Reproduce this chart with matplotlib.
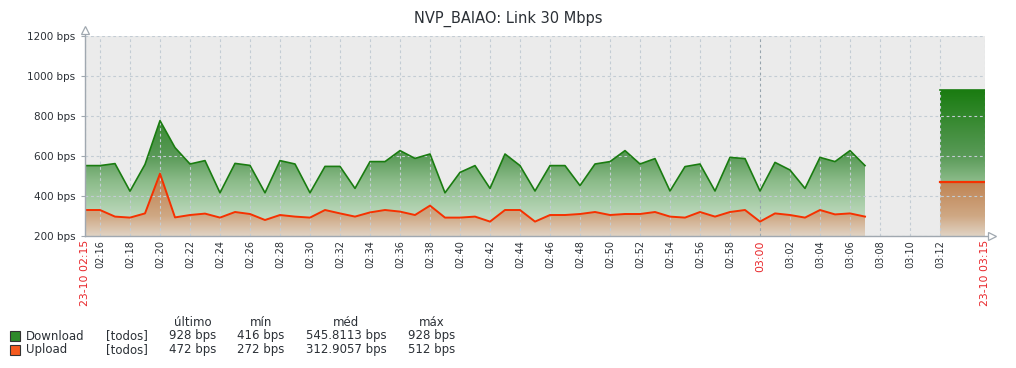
#!/usr/bin/env python3

import matplotlib
matplotlib.use('Agg')
import matplotlib.pyplot as plt
import numpy as np
from matplotlib.path import Path
from matplotlib.colors import LinearSegmentedColormap
from matplotlib.lines import Line2D

# minutes after 02:15
minutes = list(range(0, 53))
download = [552, 552, 562, 424, 558, 777, 642, 560, 577, 416, 563, 553,
            416, 577, 560, 416, 548, 548, 438, 572, 572, 627, 588, 610,
            416, 518, 552, 438, 610, 552, 425, 552, 552, 452, 560, 572,
            627, 560, 587, 425, 547, 560, 425, 593, 587, 425, 568, 530,
            438, 593, 572, 627, 552]
upload = [330, 330, 297, 292, 313, 512, 293, 305, 312, 292, 320, 310,
          280, 305, 297, 292, 330, 313, 297, 318, 330, 322, 305, 352,
          292, 292, 297, 272, 330, 330, 272, 305, 305, 310, 320, 305,
          310, 310, 320, 297, 292, 320, 297, 320, 330, 272, 313, 305,
          292, 330, 308, 313, 297]
# last block 03:12 - 03:15
last_minutes = [57, 60]
last_download = [928, 928]
last_upload = [472, 472]

tick_minutes = [0] + list(range(1, 59, 2)) + [60]
tick_labels = ['23-10 02:15'] + ['%02d:%02d' % divmod(135 + m, 60) for m in range(1, 59, 2)] + ['23-10 03:15']
red_labels = ['23-10 02:15', '03:00', '23-10 03:15']

legend_names = ['Download', 'Upload']
legend_last = ['928 bps', '472 bps']
legend_min = ['416 bps', '272 bps']
legend_avg = ['545.8113 bps', '312.9057 bps']
legend_max = ['928 bps', '512 bps']

green = '#1a7c11'
orange = '#f63100'
txt = '#2b3036'

# colour stops of the fill gradients (value, colour)
green_stops = [(200, '#d4e3d4'), (300, '#bcd8bc'), (472, '#8cbc8a'), (600, '#5a9a58'), (930, '#1a7c11')]
orange_stops = [(200, '#e0d3c4'), (300, '#cfa884'), (472, '#bf8352'), (520, '#b87a48')]

fig = plt.figure(figsize=(10.16, 3.68), dpi=100)
ax = fig.add_axes([85 / 1016, (368 - 236) / 368, 900 / 1016, 200 / 368])
ax.set_facecolor('#ebebeb')


def area(xs, ys, stops, z):
    verts = [(xs[0], 200)] + list(zip(xs, ys)) + [(xs[-1], 200), (xs[0], 200)]
    path = Path(verts)
    top = stops[-1][0]
    cmap = LinearSegmentedColormap.from_list(
        'g', [((v - 200) / (top - 200), c) for v, c in stops])
    yy = np.linspace(200, 1200, 1000)
    grad = np.clip((yy - 200) / (top - 200), 0, 1).reshape(-1, 1)
    im = ax.imshow(grad, cmap=cmap, vmin=0, vmax=1, origin='lower', aspect='auto',
                   extent=[0, 60, 200, 1200], zorder=z, interpolation='bilinear')
    im.set_clip_path(path, transform=ax.transData)


for xs, d in [(minutes, download), (last_minutes, last_download)]:
    area(xs, d, green_stops, 1)
for xs, u in [(minutes, upload), (last_minutes, last_upload)]:
    area(xs, u, orange_stops, 2)

ax.plot(minutes, download, color=green, lw=1.2, zorder=4)
ax.plot(last_minutes, last_download, color=green, lw=1.2, zorder=4)
ax.plot(minutes, upload, color=orange, lw=1.4, zorder=4)
ax.plot(last_minutes, last_upload, color=orange, lw=1.6, zorder=4)
ax.set_xlim(0, 60)
ax.set_ylim(200, 1200)

ax.set_yticks(range(200, 1201, 200))
ax.set_yticklabels(['%d bps' % v for v in range(200, 1201, 200)], fontsize=7.5, color=txt)
ax.set_xticks(tick_minutes)
ax.set_xticklabels(tick_labels, rotation=90, fontsize=7, va='top', ha='center')
for lab in ax.get_xticklabels():
    if lab.get_text() in red_labels:
        lab.set_color('#e8262a')
        lab.set_fontsize(7.8)
    else:
        lab.set_color(txt)
ax.tick_params(axis='x', length=0, pad=3)
ax.tick_params(axis='y', length=3, pad=4, color='#a0a8b0')

ax.grid(True, color='#c3ccd4', linestyle=(0, (2.5, 2.5)), lw=0.8, zorder=3)
ax.set_axisbelow(False)
for i, lab in enumerate(tick_labels):
    if lab == '03:00':
        ax.get_xgridlines()[i].set_color('#97a4ad')

for s in ['top', 'right', 'left', 'bottom']:
    ax.spines[s].set_visible(False)

# axis lines with open arrow heads
fig.add_artist(Line2D([85 / 1016, 85 / 1016], [(368 - 236) / 368, (368 - 32) / 368],
                      color='#a0a8b0', lw=1, transform=fig.transFigure))
fig.add_artist(Line2D([85 / 1016, 990 / 1016], [(368 - 236) / 368, (368 - 236) / 368],
                      color='#a0a8b0', lw=1, transform=fig.transFigure))
fig.add_artist(Line2D([85 / 1016], [(368 - 30) / 368], marker='^', ms=6, mfc='white',
                      mec='#a0a8b0', mew=0.9, transform=fig.transFigure))
fig.add_artist(Line2D([992 / 1016], [(368 - 236) / 368], marker='>', ms=6, mfc='white',
                      mec='#a0a8b0', mew=0.9, transform=fig.transFigure))

fig.text(508 / 1016, 1 - 19 / 368, 'NVP_BAIAO: Link 30 Mbps', fontsize=10.5,
         color=txt, ha='center', va='center')

# legend table
fs = 8.5
cols = [193, 261, 346, 432]
for x, h in zip(cols, ['último', 'mín', 'méd', 'máx']):
    fig.text(x / 1016, 1 - 322 / 368, h, fontsize=fs, color=txt, ha='center', va='center')
for i, (name, c) in enumerate(zip(legend_names, ['#2e8a2a', '#f55a1e'])):
    y = 336 + 14 * i
    fig.add_artist(plt.Rectangle((10 / 1016, 1 - (y + 5) / 368), 10 / 1016, 10 / 368,
                                 facecolor=c, edgecolor='#333333',
                                 lw=0.8, transform=fig.transFigure))
    fig.text(26 / 1016, 1 - y / 368, name, fontsize=fs, color=txt, va='center')
    fig.text(106 / 1016, 1 - y / 368, '[todos]', fontsize=fs, color=txt, va='center')
    vals = [legend_last[i], legend_min[i], legend_avg[i], legend_max[i]]
    for x, v in zip(cols, vals):
        fig.text(x / 1016, 1 - y / 368, v, fontsize=fs, color=txt, ha='center', va='center')

fig.savefig('out.png', dpi=100)
